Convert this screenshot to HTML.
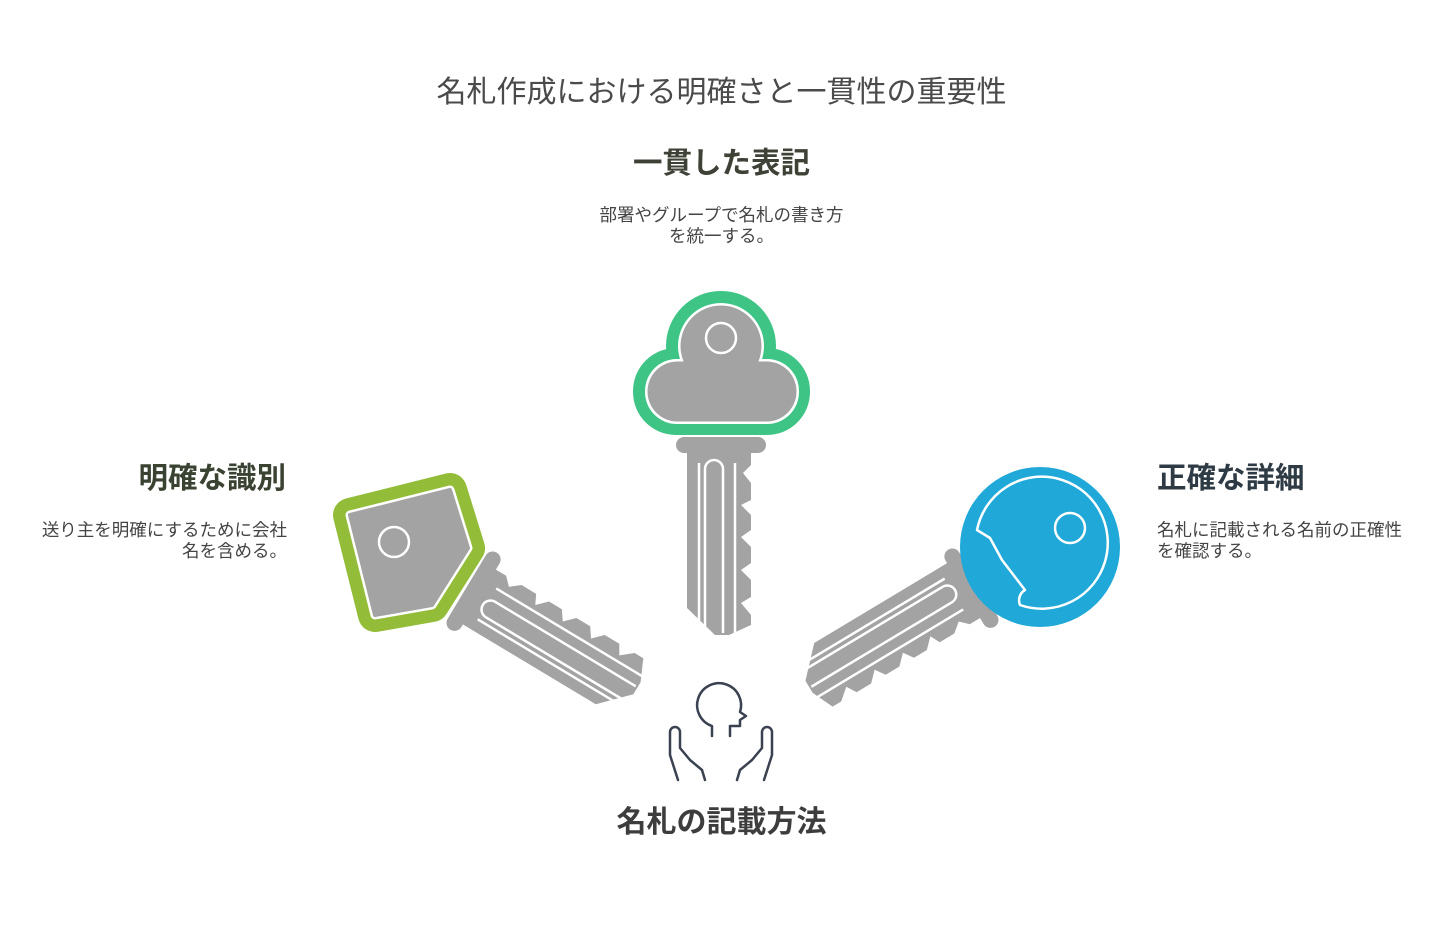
<!DOCTYPE html>
<html><head><meta charset="utf-8"><style>
html,body{margin:0;padding:0;background:#fff;}
body{width:1443px;height:948px;position:relative;overflow:hidden;font-family:"Liberation Sans","Noto Sans CJK JP",sans-serif;}
.t{position:absolute;white-space:nowrap;}
</style></head><body>
<svg width="1443" height="948" style="position:absolute;left:0;top:0">
<defs>
<g id="shaft">
  <rect x="72" y="-45" width="16" height="90" rx="8" fill="#a3a3a3"/>
  <path d="M86 -30 L100 -30 L108 -22 L118 -30 L135 -30 L140 -20 L150 -30 L165 -30 L172 -20 L182 -30 L198 -30 L205 -20 L215 -30 L232 -30 L238 -20 L250 -30 L260 -30 L270 -8 L270 6 L243 34 L86 34 Z" fill="#a3a3a3"/>
  <path d="M98 22 L264 22" stroke="#fff" stroke-width="2.5"/>
  <path d="M268 16 L104 16 A9 9 0 0 1 104 -2 L268 -2" stroke="#fff" stroke-width="2.5" fill="none"/>
  <path d="M98 -14 L268 -14" stroke="#fff" stroke-width="2.5"/>
</g>
</defs>
<g transform="translate(721,365) rotate(90)"><use href="#shaft"/></g>
<g fill="#3ec586"><circle cx="721" cy="346" r="55"/><rect x="633" y="348" width="177" height="87" rx="43"/></g>
<g fill="#fff"><circle cx="721" cy="346" r="43"/><rect x="645" y="359" width="154" height="65" rx="32"/></g>
<g fill="#a3a3a3"><circle cx="721" cy="346" r="40.5"/><rect x="647.5" y="361.5" width="149" height="60" rx="30"/></g>
<circle cx="721" cy="338" r="15" fill="none" stroke="#fff" stroke-width="2.5"/>
<g transform="translate(405,550) rotate(31)"><use href="#shaft"/></g>
<polygon points="350,515 450,490 468,548 432,605 375,615" fill="#93bd38" stroke="#93bd38" stroke-width="34" stroke-linejoin="round"/>
<polygon points="350,515 450,490 468,548 432,605 375,615" fill="#a3a3a3" stroke="#fff" stroke-width="9" stroke-linejoin="round"/>
<polygon points="350,515 450,490 468,548 432,605 375,615" fill="#a3a3a3" stroke="#a3a3a3" stroke-width="4" stroke-linejoin="round"/>
<circle cx="394" cy="542" r="15" fill="none" stroke="#fff" stroke-width="2.5"/>
<g transform="translate(1040,547) rotate(149)"><use href="#shaft"/></g>
<circle cx="1040" cy="547" r="80" fill="#1fa8d8"/>
<path d="M990 538 L1002 560 L1025 590 A12 12 0 0 0 1020 605 A66 66 0 1 0 977 530 Z" fill="none" stroke="#fff" stroke-width="2.5" stroke-linejoin="round"/>
<circle cx="1070" cy="528" r="15" fill="none" stroke="#fff" stroke-width="2.5"/>
<g fill="none" stroke="#3a4150" stroke-width="2.5" stroke-linecap="round" stroke-linejoin="round">
  <path d="M712 736 L712 726 A22 22 0 1 1 740 712 L746 716 L740 720 L740 726 L730 726 L730 736"/>
  <path d="M678 780 L670 755 L670 732 A5 5 0 0 1 680 732 L680 748 L690 760 L702 770 L705 780"/>
  <path d="M764 780 L772 755 L772 732 A5 5 0 0 0 762 732 L762 748 L752 760 L740 770 L737 780"/>
</g>
</svg>
<div class="t" style="left:0;width:1443px;text-align:center;top:67px;font-size:30px;color:#4a4a4a;">名札作成における明確さと一貫性の重要性</div>
<div class="t" style="left:0;width:1443px;text-align:center;top:140px;font-size:29.5px;font-weight:bold;color:#3e4236;">一貫した表記</div>
<div class="t" style="left:0;width:1443px;text-align:center;top:205px;font-size:17.5px;line-height:21px;color:#444;">部署やグループで名札の書き方<br>を統一する。</div>
<div class="t" style="right:1157px;text-align:right;top:455px;font-size:29.5px;font-weight:bold;color:#3a4232;">明確な識別</div>
<div class="t" style="right:1156px;text-align:right;top:520px;font-size:17.5px;line-height:21px;color:#444;">送り主を明確にするために会社<br>名を含める。</div>
<div class="t" style="left:1157px;top:455px;font-size:29.5px;font-weight:bold;color:#2f3b44;">正確な詳細</div>
<div class="t" style="left:1157px;top:520px;font-size:17.5px;line-height:21px;color:#444;">名札に記載される名前の正確性<br>を確認する。</div>
<div class="t" style="left:0;width:1443px;text-align:center;top:797px;font-size:30px;font-weight:bold;color:#3d3d3d;">名札の記載方法</div>
</body></html>
